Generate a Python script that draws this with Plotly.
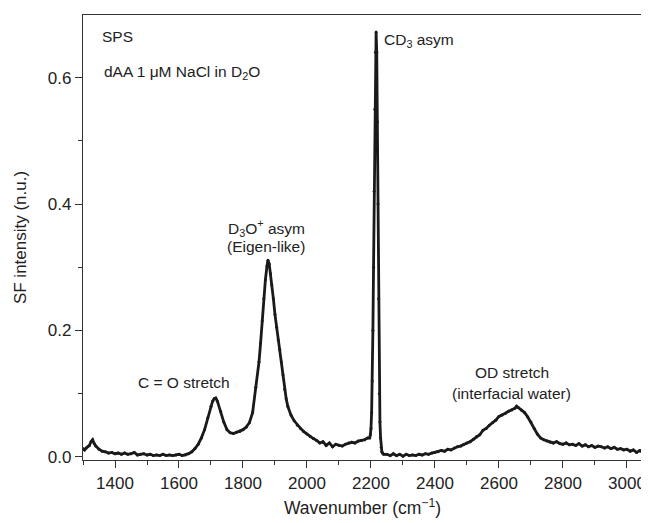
import plotly.graph_objects as go

wavenumber = [
    1300, 1305, 1310, 1315, 1320, 1325, 1330, 1335, 1340, 1350, 1360, 1370, 1380, 1390,
    1400, 1410, 1420, 1430, 1440, 1450, 1460, 1470, 1480, 1490, 1500, 1510, 1520, 1530,
    1540, 1550, 1560, 1570, 1580, 1590, 1600, 1610, 1620, 1630, 1640, 1650, 1660, 1670,
    1680, 1690, 1700, 1705, 1710, 1715, 1720, 1730, 1740, 1750, 1760, 1770, 1780, 1790,
    1800, 1810, 1820, 1830, 1840, 1850, 1855, 1860, 1865, 1870, 1875, 1878, 1882, 1886,
    1890, 1895, 1900, 1905, 1910, 1915, 1920, 1925, 1930, 1935, 1940, 1950, 1960, 1970,
    1980, 1990, 2000, 2010, 2020, 2030, 2040, 2050, 2060, 2070, 2080, 2090, 2100, 2110,
    2120, 2130, 2140, 2150, 2160, 2170, 2180, 2190, 2196, 2198, 2200, 2202, 2204, 2206,
    2208, 2210, 2212, 2214, 2216, 2218, 2220, 2222, 2224, 2226, 2228, 2230, 2232, 2234,
    2236, 2240, 2250, 2260, 2270, 2280, 2290, 2300, 2310, 2320, 2330, 2340, 2350, 2360,
    2370, 2380, 2390, 2400, 2410, 2420, 2430, 2440, 2450, 2460, 2470, 2480, 2490, 2500,
    2510, 2520, 2530, 2540, 2550, 2560, 2570, 2580, 2590, 2600, 2610, 2620, 2630, 2640,
    2650, 2655, 2660, 2670, 2680, 2690, 2700, 2710, 2720, 2730, 2740, 2750, 2760, 2770,
    2780, 2790, 2800, 2810, 2820, 2830, 2840, 2850, 2860, 2870, 2880, 2890, 2900, 2910,
    2920, 2930, 2940, 2950, 2960, 2970, 2980, 2990, 3000, 3010, 3020, 3030, 3040, 3047,
]

sf_intensity = [
    0.013, 0.011, 0.014, 0.016, 0.018, 0.024, 0.027, 0.021, 0.017, 0.012, 0.009, 0.008, 0.006, 0.007,
    0.005, 0.006, 0.004, 0.006, 0.004, 0.005, 0.007, 0.003, 0.004, 0.005, 0.003, 0.004, 0.002, 0.003,
    0.002, 0.004, 0.002, 0.003, 0.002, 0.003, 0.004, 0.002, 0.003, 0.005, 0.008, 0.013, 0.020, 0.030,
    0.043, 0.062, 0.080, 0.088, 0.092, 0.093, 0.088, 0.072, 0.055, 0.043, 0.038, 0.037, 0.039, 0.040,
    0.043, 0.047, 0.054, 0.070, 0.110, 0.150, 0.180, 0.215, 0.250, 0.280, 0.302, 0.311, 0.305, 0.290,
    0.272, 0.250, 0.225, 0.205, 0.185, 0.170, 0.150, 0.130, 0.107, 0.092, 0.080, 0.066, 0.057, 0.050,
    0.045, 0.040, 0.036, 0.032, 0.029, 0.026, 0.022, 0.024, 0.018, 0.022, 0.016, 0.020, 0.018, 0.017,
    0.020, 0.022, 0.023, 0.022, 0.025, 0.026, 0.027, 0.030, 0.030, 0.035, 0.045, 0.070, 0.120, 0.200,
    0.300, 0.420, 0.550, 0.640, 0.672, 0.640, 0.530, 0.400, 0.250, 0.100, 0.055, 0.030, 0.015, 0.008,
    0.006, 0.004, 0.004, 0.002, 0.005, 0.002, 0.004, 0.001, 0.004, 0.002, 0.003, 0.002, 0.004, 0.003,
    0.005, 0.004, 0.006, 0.007, 0.008, 0.010, 0.009, 0.012, 0.011, 0.014, 0.016, 0.017, 0.020, 0.022,
    0.024, 0.028, 0.032, 0.035, 0.042, 0.045, 0.050, 0.054, 0.058, 0.064, 0.066, 0.069, 0.072, 0.074,
    0.077, 0.080, 0.078, 0.074, 0.070, 0.063, 0.055, 0.045, 0.036, 0.030, 0.027, 0.025, 0.023, 0.022,
    0.024, 0.021, 0.020, 0.022, 0.019, 0.020, 0.018, 0.021, 0.017, 0.019, 0.016, 0.018, 0.015, 0.017,
    0.016, 0.014, 0.016, 0.013, 0.015, 0.012, 0.013, 0.011, 0.012, 0.009, 0.011, 0.007, 0.010, 0.008,
]

x_ticks = [1400, 1600, 1800, 2000, 2200, 2400, 2600, 2800, 3000]
y_ticks = [0.0, 0.2, 0.4, 0.6]
y_tick_labels = ["0.0", "0.2", "0.4", "0.6"]

FONT = "Liberation Sans, Arial, sans-serif"
INK = "#222222"

fig = go.Figure()
fig.add_trace(go.Scatter(
    x=wavenumber, y=sf_intensity, mode="lines+markers",
    line=dict(color="#1a1a1a", width=2.8),
    marker=dict(color="#1a1a1a", size=3),
    showlegend=False, hoverinfo="x+y",
))

ann = dict(showarrow=False, font=dict(family=FONT, size=15.5, color=INK), xref="x", yref="y")
annotations = [
    dict(text="SPS", x=1353, y=0.665, xanchor="left", yanchor="middle"),
    dict(text="dAA 1 \u03bcM NaCl in D<sub>2</sub>O", x=1358, y=0.608, xanchor="left", yanchor="middle"),
    dict(text="D<sub>3</sub>O<sup>+</sup> asym", x=1873, y=0.362, xanchor="center", yanchor="middle"),
    dict(text="(Eigen-like)", x=1873, y=0.332, xanchor="center", yanchor="middle"),
    dict(text="CD<sub>3</sub> asym", x=2233, y=0.658, xanchor="left", yanchor="middle"),
    dict(text="C = O stretch", x=1617, y=0.117, xanchor="center", yanchor="middle"),
    dict(text="OD stretch", x=2640, y=0.133, xanchor="center", yanchor="middle"),
    dict(text="(interfacial water)", x=2640, y=0.101, xanchor="center", yanchor="middle"),
]
for a in annotations:
    d = dict(ann)
    d.update(a)
    fig.add_annotation(**d)

axis_common = dict(
    showline=True, linecolor="#333333", linewidth=1.3, mirror=True,
    ticks="outside", tickcolor="#333333", tickwidth=1.2, ticklen=7,
    showgrid=False, zeroline=False, automargin=False,
    tickfont=dict(family=FONT, size=17, color=INK),
)

fig.update_xaxes(
    range=[1300, 3047], tickvals=x_ticks,
    minor=dict(dtick=100, ticklen=4, tickcolor="#333333", ticks="outside"),
    title=dict(text="Wavenumber (cm<sup>\u22121</sup>)", font=dict(family=FONT, size=17.5, color=INK), standoff=10),
    **axis_common,
)
fig.update_yaxes(
    range=[-0.005, 0.699], tickvals=y_ticks, ticktext=y_tick_labels,
    minor=dict(dtick=0.1, ticklen=4, tickcolor="#333333", ticks="outside"),
    title=dict(text="SF intensity (n.u.)", font=dict(family=FONT, size=17, color=INK), standoff=16),
    **axis_common,
)

# the page body adds an 8 px offset; size the figure so the plot area lands where the reference has it
fig.update_layout(
    width=641, height=515,
    margin=dict(l=75, r=7, t=7, b=63),
    plot_bgcolor="white", paper_bgcolor="white",
    font=dict(family=FONT, color=INK),
)

fig.write_html("out.html")
